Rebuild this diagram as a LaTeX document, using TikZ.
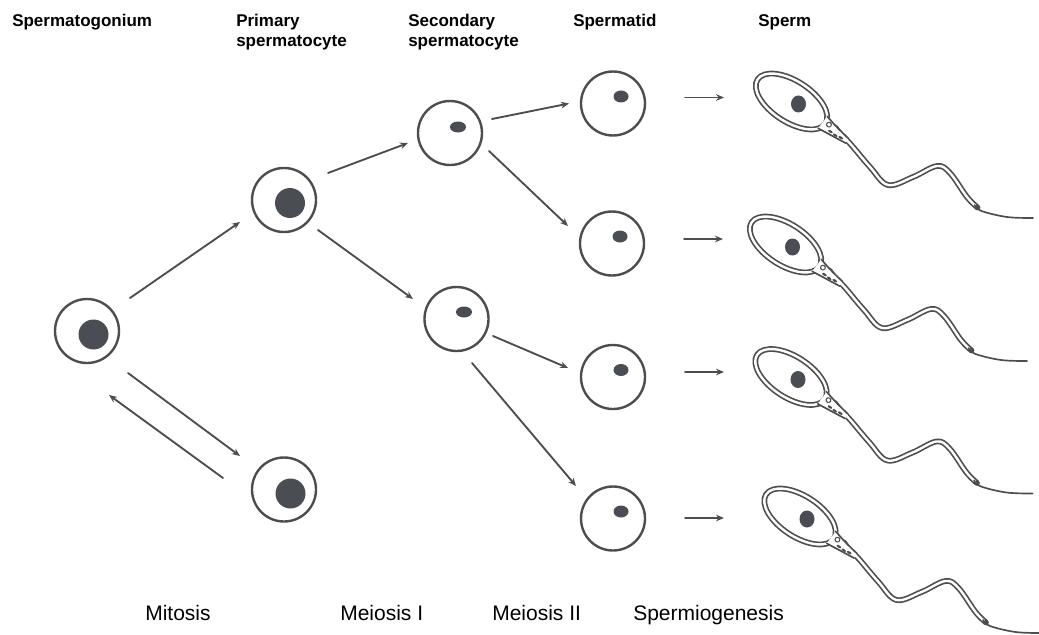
\documentclass[tikz,border=0pt]{standalone}
\usepackage{fontspec}
\setmainfont{Liberation Sans}
\usetikzlibrary{calc,arrows.meta}

\definecolor{linec}{RGB}{77,77,77}
\definecolor{nucc}{RGB}{74,78,84}

\tikzset{
	cell/.style={circle,draw=linec,line width=1.8pt,minimum size=48pt,inner sep=0pt},
	nuc/.style={fill=nucc},
	arr/.style={->,draw=linec,line width=1.4pt},
	stage/.style={anchor=north west,inner sep=0pt,align=left,font=\fontsize{12.75pt}{15pt}\selectfont\bfseries},
	phase/.style={anchor=base west,inner sep=0pt,font=\fontsize{15.75pt}{19pt}\selectfont},
	sline/.style={draw=linec,line width=1.25pt},
	sdouble/.style={draw=linec,double=white,line width=1.25pt,double distance=1.8pt},
	sperm/.pic={
		\coordinate (-head) at (0,0);
		% tail
		\draw[draw=linec,line width=4.3pt] plot[smooth,tension=0.6] coordinates {(44,26) (50,34) (58.5,42) (78.5,65.5) (96.5,83.5) (121.5,75.5) (145.5,64.5) (158.5,71.5) (175.5,95.5) (186,106)};
		\draw[draw=white,line width=1.8pt,shorten >=3pt] plot[smooth,tension=0.6] coordinates {(44,26) (50,34) (58.5,42) (78.5,65.5) (96.5,83.5) (121.5,75.5) (145.5,64.5) (158.5,71.5) (175.5,95.5) (186,106)};
		\draw[sline] plot[smooth,tension=0.6] coordinates {(183,103.5) (190,109.5) (215.5,115.5) (241.5,116.5)};
		% head
		\draw[sdouble,fill=white,rotate=-33] (0,0) ellipse (40.5 and 20.5);
		\fill[nuc] (7,2.5) ellipse (7.5 and 8.5);
		% midpiece
		\begin{scope}[rotate=-33]
			\fill[white] (38,-7) -- (68,0) -- (68,5.4) -- (37,8) -- cycle;
			\draw[sline] (38,-7) .. controls (52,-3) .. (68,0);
			\draw[sline] (37,8) .. controls (52,6) .. (68,5.4);
			\draw[sline,line width=0.8pt] (44,-1) circle (2.4);
			\fill[nucc] (49,4) ellipse (2.6 and 1.2);
			\fill[nucc] (55,4.5) ellipse (2.6 and 1.2);
			\fill[nucc] (61,3.5) ellipse (2.6 and 1.2);
		\end{scope}
	}
}

\begin{document}
\begin{tikzpicture}[
	x=0.75pt,y=-0.75pt,
	>={Stealth[length=6pt,width=5pt]},
	line cap=round,
	line join=round
	]
	\useasboundingbox (0,0) rectangle (1039,635);

	% stage labels
	\node[stage] (lsg) at (12,14) {Spermatogonium};
	\node[stage] (lpu) at (236,14) {Primary\\spermatocyte};
	\node[stage] (lsu) at (408,14) {Secondary\\spermatocyte};
	\node[stage] (lt) at (573,14) {Spermatid};
	\node[stage] (ls) at (758,14) {Sperm};

	% cells
	\node[cell] (sg) at (87,331) {};
	\node[cell] (pu) at (284,200) {};
	\node[cell] (pl) at (284,489.5) {};
	\node[cell] (su) at (450,133) {};
	\node[cell] (sl) at (456.5,319) {};
	\node[cell] (t1) at (613,103.5) {};
	\node[cell] (t2) at (612,243.5) {};
	\node[cell] (t3) at (613,377) {};
	\node[cell] (t4) at (613,518.5) {};

	% nuclei
	\fill[nuc] ($(sg)+(6.5,3.5)$) circle (15);
	\fill[nuc] ($(pu)+(6,3)$) circle (15);
	\fill[nuc] ($(pl)+(6.5,4)$) circle (15);
	\fill[nuc] ($(su)+(8,-6)$) ellipse (8 and 5.5);
	\fill[nuc] ($(sl)+(7.5,-7)$) ellipse (8 and 5.5);
	\foreach \i in {1,...,4}
		\fill[nuc] ($(t\i)+(8,-7)$) ellipse (7.5 and 6);

	% arrows
	\draw[arr] ($(sg)+(43,-33)$) -- ($(pu)+(-44,22)$);
	\draw[arr] ($(sg)+(41,42)$) -- ($(pl)+(-44,-33.5)$);
	\draw[arr] ($(pl)+(-61,-11.5)$) -- ($(sg)+(22,64)$);
	\draw[arr] ($(pu)+(44,-27)$) -- ($(su)+(-42,10)$);
	\draw[arr] ($(pu)+(34,30)$) -- ($(sl)+(-43.5,-20)$);
	\draw[arr] ($(su)+(42,-14)$) -- ($(t1)+(-44,0)$);
	\draw[arr] ($(su)+(39,18)$) -- ($(t2)+(-44,-17.5)$);
	\draw[arr] ($(sl)+(36.5,17)$) -- ($(t3)+(-45,-9)$);
	\draw[arr] ($(sl)+(15.5,44)$) -- ($(t4)+(-37,-32.5)$);

	% sperm
	\foreach \i/\x/\y in {1/791.5/101.5,2/785.5/244.5,3/791/377,4/800/516.5}
		\pic (s\i) at (\x,\y) {sperm};
	\foreach \i/\dy in {1/-6,2/-4.5,3/-5,4/-0.5}
		\draw[arr] ($(t\i)+(72,\dy)$) -- ++(39,0);

	% phase labels
	\node[phase] (lmit) at (145,620) {Mitosis};
	\node[phase] (lm1) at (340,620) {Meiosis I};
	\node[phase] (lm2) at (492,620) {Meiosis II};
	\node[phase] (lspg) at (633,620) {Spermiogenesis};
\end{tikzpicture}
\end{document}
